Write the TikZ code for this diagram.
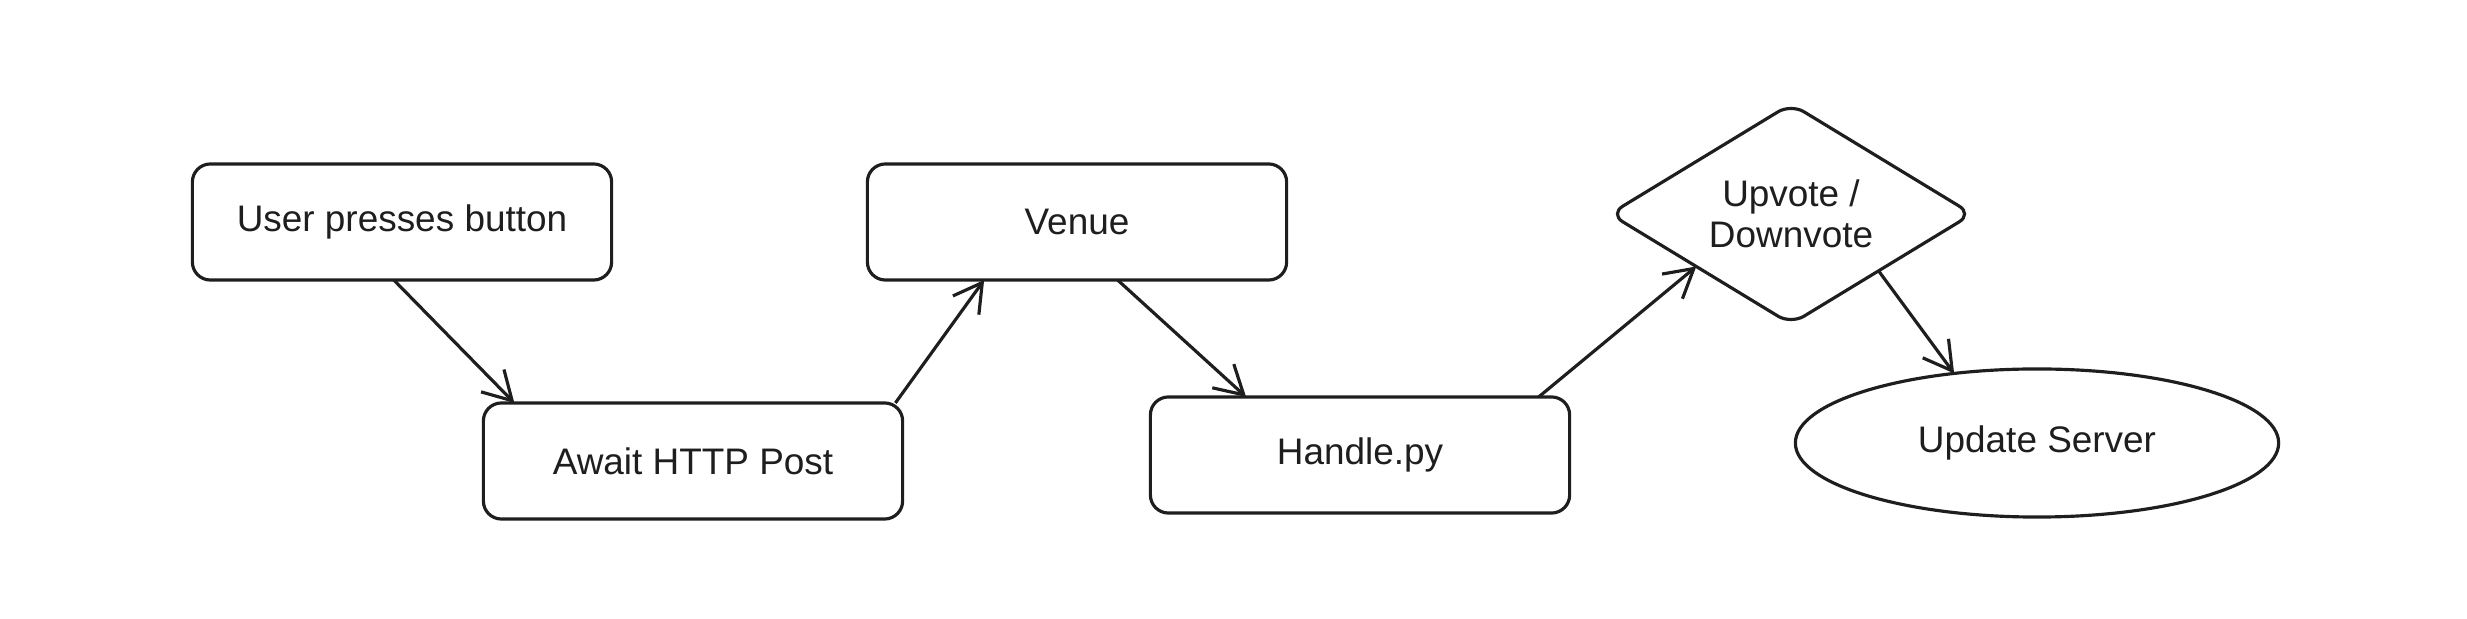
\documentclass[tikz,border=0pt]{standalone}
\usepackage{fontspec}
\setmainfont{Liberation Sans}
\usetikzlibrary{shapes.geometric, arrows.meta}
\definecolor{ink}{HTML}{1E1E1E}
\begin{document}
\begin{tikzpicture}[x=0.01cm, y=-0.01cm, ink, line width=0.9pt,
    font=\fontsize{10.5}{11.5}\selectfont,
    box/.style={draw, rounded corners=0.18cm, minimum width=4.19cm, minimum height=1.16cm, outer sep=0pt},
    vote/.style={draw, diamond, aspect=1.67, rounded corners=0.15cm, minimum width=3.62cm, minimum height=2.2cm, inner sep=0pt, outer sep=0pt, align=center},
    oval/.style={draw, ellipse, minimum width=4.83cm, minimum height=1.48cm, inner sep=0pt, outer sep=0pt},
    link/.style={-{Straight Barb[length=2.8mm, width=3.2mm]}}]
            \useasboundingbox (0,0) rectangle (2467,619);
            \node[box] (user) at (402,222) {User presses button};
            \node[box] (await) at (693,461) {Await HTTP Post};
            \node[box] (venue) at (1077,222) {Venue};
            \node[box] (handle) at (1360,455) {Handle.py};
            \node[vote] (vote) at (1791,214) {Upvote /\\Downvote};
            \node[oval] (server) at (2037,443) {Update Server};
            \draw[link] (user.262) -- (await.162);
            \draw[link] (await.16) -- (venue.212);
            \draw[link] (venue.305) -- (handle.153);
            \draw[link] (handle.18) -- (vote.209);
            \draw[link] (vote.327) -- (server.140);
        \end{tikzpicture}
\end{document}
